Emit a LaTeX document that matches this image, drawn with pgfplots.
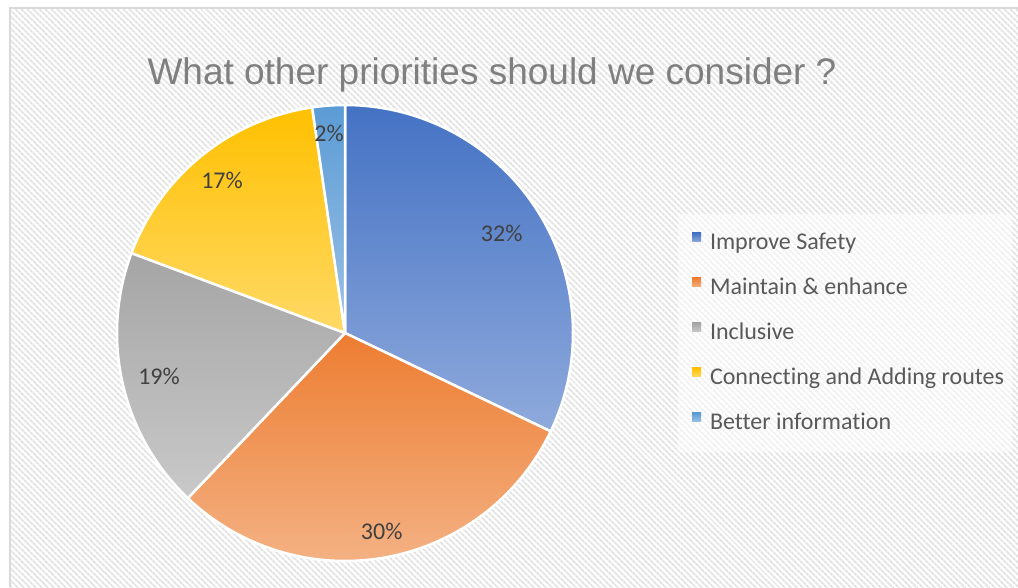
\documentclass[border=0pt]{standalone}
\usepackage{pgfplots}
\pgfplotsset{compat=1.18}
\usetikzlibrary{patterns.meta}
\usepackage{fontspec}
\setmainfont{Carlito}[RawFeature=-liga]
\newfontfamily\titlefont{Liberation Sans}

\definecolor{blueTop}{HTML}{4472C4}
\definecolor{blueBot}{HTML}{8FAADC}
\definecolor{orangeTop}{HTML}{ED7D31}
\definecolor{orangeBot}{HTML}{F4B183}
\definecolor{grayTop}{HTML}{A5A5A5}
\definecolor{grayBot}{HTML}{C9C9C9}
\definecolor{yellowTop}{HTML}{FFC000}
\definecolor{yellowBot}{HTML}{FFD966}
\definecolor{lblueTop}{HTML}{5B9BD5}
\definecolor{lblueBot}{HTML}{9DC3E6}
\definecolor{hatch}{HTML}{E3E3E3}
\definecolor{border}{HTML}{D9D9D9}
\definecolor{titlegray}{HTML}{7F7F7F}
\definecolor{legendgray}{HTML}{595959}
\definecolor{labelgray}{HTML}{404040}

% shares (percent)
\def\vA{32.1}% Improve Safety
\def\vB{30.0}% Maintain & enhance
\def\vC{18.6}% Inclusive
\def\vD{17.0}% Connecting and Adding routes
\def\vE{2.3}%  Better information
\pgfmathsetmacro\aA{90}
\pgfmathsetmacro\aB{\aA-3.6*\vA}
\pgfmathsetmacro\aC{\aB-3.6*\vB}
\pgfmathsetmacro\aD{\aC-3.6*\vC}
\pgfmathsetmacro\aE{\aD-3.6*\vD}
\pgfmathsetmacro\aF{\aE-3.6*\vE}

\begin{document}
\begin{tikzpicture}
\begin{axis}[name=ax, width=1018pt, height=587pt, scale only axis,
  xmin=0, xmax=1018, ymin=0, ymax=587, hide axis, clip=false,
  legend style={at={(0.67976,0.60307)}, anchor=north west, draw=none, fill=none,
    inner sep=0pt, outer sep=0pt, row sep=23pt, column sep=9pt,
    font=\fontsize{24}{28}\selectfont,
    nodes={inner sep=0pt, text height=17pt, text depth=5pt, text=legendgray}},
  legend cell align=left,
  legend image code/.code={\path[#1, draw=none] (0pt,2pt) rectangle (9pt,11pt);},
  wedge/.style={forget plot, draw=white, line width=2.5pt, line join=round, samples=120},
]
% background
\fill[white] (axis cs:0,0) rectangle (axis cs:1018,587);
\fill[pattern={Lines[angle=-45,distance=4pt,line width=2pt]}, pattern color=hatch]
  (axis cs:10,0) rectangle (axis cs:1018,579);
\draw[border, line width=1.5pt] (axis cs:10,0) -- (axis cs:10,579) -- (axis cs:1018,579);
\fill[white, fill opacity=0.5] (axis cs:678,135) rectangle (axis cs:1012,373);

% wedges
\addplot[wedge, top color=blueTop, bottom color=blueBot, domain=\aB:\aA]
  ({345+228*cos(x)},{254+228*sin(x)}) -- (axis cs:345,254) -- cycle;
\addplot[wedge, top color=orangeTop, bottom color=orangeBot, domain=\aC:\aB]
  ({345+228*cos(x)},{254+228*sin(x)}) -- (axis cs:345,254) -- cycle;
\addplot[wedge, top color=grayTop, bottom color=grayBot, domain=\aD:\aC]
  ({345+228*cos(x)},{254+228*sin(x)}) -- (axis cs:345,254) -- cycle;
\addplot[wedge, top color=yellowTop, bottom color=yellowBot, domain=\aE:\aD]
  ({345+228*cos(x)},{254+228*sin(x)}) -- (axis cs:345,254) -- cycle;
\addplot[wedge, top color=lblueTop, bottom color=lblueBot, domain=\aF:\aE, samples=30]
  ({345+228*cos(x)},{254+228*sin(x)}) -- (axis cs:345,254) -- cycle;

% data labels
\begin{scope}[every node/.style={anchor=base, font=\fontsize{24}{28}\selectfont, text=labelgray, inner sep=0pt}]
\node at (axis cs:501.7,345) {32\%};
\node at (axis cs:381.7,48) {30\%};
\node at (axis cs:159,202) {19\%};
\node at (axis cs:222,398) {17\%};
\node at (axis cs:329,445) {2\%};
\end{scope}

% title
\node[anchor=base, inner sep=0pt, text=titlegray, font=\titlefont\fontsize{37}{44}\selectfont]
  at (axis cs:492,502) {What other priorities should we consider ?};

% legend
\addlegendimage{top color=blueTop, bottom color=blueBot}
\addlegendentry{Improve Safety}
\addlegendimage{top color=orangeTop, bottom color=orangeBot}
\addlegendentry{Maintain \& enhance}
\addlegendimage{top color=grayTop, bottom color=grayBot}
\addlegendentry{Inclusive}
\addlegendimage{top color=yellowTop, bottom color=yellowBot}
\addlegendentry{Connecting and Adding routes}
\addlegendimage{top color=lblueTop, bottom color=lblueBot}
\addlegendentry{Better information}
\end{axis}
\pgfresetboundingbox
\path (ax.south west) rectangle (ax.north east);
\end{tikzpicture}
\end{document}
